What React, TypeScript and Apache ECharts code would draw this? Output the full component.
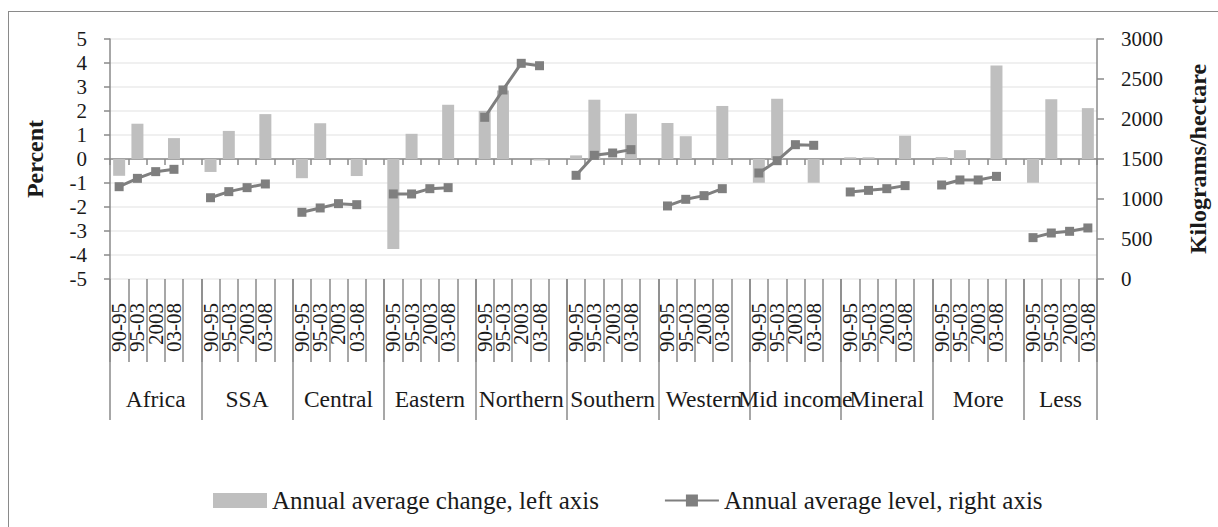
import React, { useEffect, useRef } from 'react';
import * as echarts from 'echarts';

const groups = ['Africa', 'SSA', 'Central', 'Eastern', 'Northern', 'Southern', 'Western', 'Mid income', 'Mineral', 'More', 'Less'];
const periods = ['90-95', '95-03', '2003', '03-08'];

// Annual average change (%), left axis; one array per group, in period order
const changeAfrica = [-0.7, 1.47, null, 0.87];
const changeSSA = [-0.54, 1.17, null, 1.87];
const changeCentral = [-0.8, 1.49, null, -0.71];
const changeEastern = [-3.75, 1.05, null, 2.26];
const changeNorthern = [2.0, 2.85, null, -0.06];
const changeSouthern = [0.15, 2.47, null, 1.89];
const changeWestern = [1.5, 0.95, null, 2.21];
const changeMidIncome = [-0.99, 2.51, null, -0.99];
const changeMineral = [0.07, 0.07, null, 0.97];
const changeMore = [0.08, 0.37, null, 3.9];
const changeLess = [-0.99, 2.49, null, 2.12];

// Annual average level (kg/ha), right axis
const levelAfrica = [1154, 1258, 1342, 1371];
const levelSSA = [1016, 1092, 1142, 1188];
const levelCentral = [834, 888, 942, 929];
const levelEastern = [1063, 1063, 1129, 1142];
const levelNorthern = [2021, 2363, 2696, 2666];
const levelSouthern = [1296, 1546, 1575, 1617];
const levelWestern = [913, 996, 1042, 1129];
const levelMidIncome = [1325, 1479, 1679, 1671];
const levelMineral = [1088, 1108, 1129, 1167];
const levelMore = [1175, 1238, 1238, 1283];
const levelLess = [517, 575, 596, 638];

const changeByGroup = [changeAfrica, changeSSA, changeCentral, changeEastern, changeNorthern, changeSouthern, changeWestern, changeMidIncome, changeMineral, changeMore, changeLess];
const levelByGroup = [levelAfrica, levelSSA, levelCentral, levelEastern, levelNorthern, levelSouthern, levelWestern, levelMidIncome, levelMineral, levelMore, levelLess];

const barName = 'Annual average change, left axis';
const lineName = 'Annual average level, right axis';

const FONT = '"Liberation Serif", "Times New Roman", serif';
const TEXT = '#1a1a1a';
const AXIS = '#8a8a8a';

export default function App() {
  const ref = useRef<HTMLDivElement>(null);

  useEffect(() => {
    if (!ref.current) return;
    const chart = echarts.init(ref.current, undefined, { renderer: 'svg' });

    // categories: 4 periods per group, blank slot between groups
    const categories: string[] = [];
    const groupStart: number[] = [];
    const groupSlots: number[] = [];
    groups.forEach((g, gi) => {
      groupStart.push(categories.length);
      periods.forEach((p) => categories.push(p));
      if (gi < groups.length - 1) {
        categories.push('');
        groupSlots.push(5);
      } else {
        groupSlots.push(4);
      }
    });
    const n = categories.length;

    const barData: any[] = new Array(n).fill('-');
    changeByGroup.forEach((arr, gi) => {
      arr.forEach((v, pi) => {
        barData[groupStart[gi] + pi] = v === null ? '-' : v;
      });
    });

    const lineSeries = levelByGroup.map((arr, gi) => {
      const d: any[] = new Array(n).fill('-');
      arr.forEach((v, pi) => {
        d[groupStart[gi] + pi] = v;
      });
      return {
        name: lineName,
        type: 'line',
        xAxisIndex: 0,
        yAxisIndex: 1,
        data: d,
        symbol: 'rect',
        symbolSize: 9,
        connectNulls: false,
        itemStyle: { color: '#7f7f7f' },
        lineStyle: { color: '#7f7f7f', width: 3 },
        z: 3,
      };
    });

    const groupLabelMap: Record<number, string> = {};
    groups.forEach((g, gi) => {
      const c = groupStart[gi] + groupSlots[gi] / 2;
      groupLabelMap[Math.round(c * 2)] = g;
    });

    const tickLine = { color: AXIS, width: 1.5 };

    chart.setOption({
      animation: false,
      grid: { left: 110, right: 115, top: 39, bottom: 248, containLabel: false },
      legend: {
        left: 208,
        top: 483,
        itemWidth: 54,
        itemHeight: 15,
        itemGap: 65,
        textStyle: { fontSize: 25, fontFamily: FONT, color: TEXT },
        data: [{ name: barName, icon: 'rect' }, { name: lineName }],
      },
      xAxis: [
        {
          type: 'category',
          data: categories,
          position: 'bottom',
          axisLine: { show: true, onZero: true, onZeroAxisIndex: 0, lineStyle: tickLine },
          axisTick: { show: true, length: 6, interval: 0, lineStyle: tickLine },
          axisLabel: { show: false },
          splitLine: { show: false },
        },
        {
          type: 'category',
          data: categories,
          position: 'bottom',
          axisLine: { show: false, onZero: false },
          axisTick: { show: true, length: 83, interval: 0, lineStyle: tickLine },
          axisLabel: {
            show: true,
            interval: 0,
            rotate: 90,
            margin: 24,
            fontSize: 21,
            fontFamily: FONT,
            color: TEXT,
          },
          splitLine: { show: false },
        },
        {
          type: 'category',
          data: categories,
          position: 'bottom',
          axisLine: { show: false, onZero: false },
          axisTick: {
            show: true,
            length: 141,
            interval: (i: number) => groupStart.indexOf(i) >= 0,
            lineStyle: tickLine,
          },
          axisLabel: { show: false },
          splitLine: { show: false },
        },
        {
          type: 'value',
          min: 0,
          max: n,
          interval: 0.5,
          position: 'bottom',
          axisLine: { show: false, onZero: false },
          axisTick: { show: false },
          splitLine: { show: false },
          axisLabel: {
            show: true,
            margin: 108,
            fontSize: 23.5,
            fontFamily: FONT,
            color: TEXT,
            formatter: (v: number) => groupLabelMap[Math.round(v * 2)] || '',
          },
        },
      ],
      yAxis: [
        {
          type: 'value',
          min: -5,
          max: 5,
          interval: 1,
          position: 'left',
          name: 'Percent',
          nameLocation: 'middle',
          nameGap: 63,
          nameTextStyle: { fontSize: 24, fontWeight: 'bold', fontFamily: FONT, color: TEXT },
          axisLine: { show: true, lineStyle: tickLine },
          axisTick: { show: true, length: 6, lineStyle: tickLine },
          axisLabel: { margin: 23, fontSize: 21, fontFamily: FONT, color: TEXT },
          splitLine: { show: true, lineStyle: { color: '#ebebeb', width: 1.5 } },
        },
        {
          type: 'value',
          min: 0,
          max: 3000,
          interval: 500,
          position: 'right',
          name: 'Kilograms/hectare',
          nameLocation: 'middle',
          nameGap: 89,
          nameTextStyle: { fontSize: 24, fontWeight: 'bold', fontFamily: FONT, color: TEXT },
          axisLine: { show: true, lineStyle: tickLine },
          axisTick: { show: true, length: 7, lineStyle: tickLine },
          axisLabel: {
            margin: 24,
            fontSize: 21,
            fontFamily: FONT,
            color: TEXT,
            formatter: (v: number) => String(v),
          },
          splitLine: { show: false },
        },
      ],
      series: [
        {
          name: barName,
          type: 'bar',
          xAxisIndex: 0,
          yAxisIndex: 0,
          data: barData,
          barWidth: 12,
          itemStyle: { color: '#bfbfbf' },
          z: 2,
        },
        ...lineSeries,
      ],
    });

    return () => {
      chart.dispose();
    };
  }, []);

  return (
    <div style={{ position: 'fixed', left: 0, top: 0, width: 1218, height: 527, background: '#fff', overflow: 'hidden' }}>
      <div
        style={{
          position: 'absolute',
          left: 8,
          top: 11,
          width: 1210,
          height: 516,
          borderLeft: '1.5px solid #8a8a8a',
          borderTop: '1.5px solid #8a8a8a',
          boxSizing: 'border-box',
        }}
      />
      <div ref={ref} style={{ position: 'absolute', left: 0, top: 0, width: 1218, height: 527 }} />
    </div>
  );
}
